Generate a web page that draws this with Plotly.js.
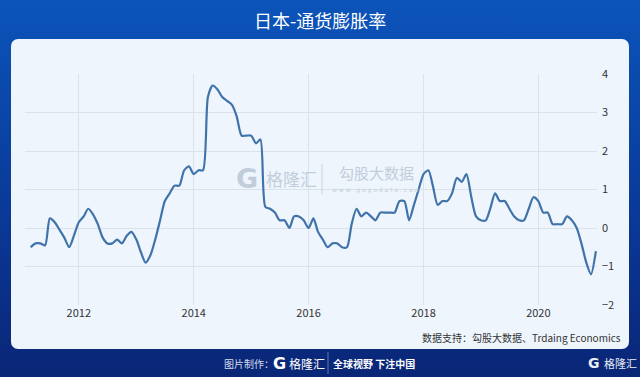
<!DOCTYPE html>
<html>
<head>
<meta charset="utf-8">
<script src="https://cdn.plot.ly/plotly-3.0.1.min.js"></script>
<style>
html,body{margin:0;padding:0;}
body{width:640px;height:377px;overflow:hidden;position:relative;
background:linear-gradient(to bottom,#0c54ba 0%,#0a46a8 30%,#0a3592 65%,#0a2676 100%);}
#panel{position:absolute;left:11px;top:39px;width:618px;height:310px;border-radius:7px;background:#eef5fd;}
#chart{position:absolute;left:0;top:0;width:640px;height:377px;}
</style>
</head>
<body>
<div id="panel"></div>
<div id="chart"></div>
<script>
// Monthly dates, Mar 2011 .. Jan 2021
const months = [
'2011-03','2011-04','2011-05','2011-06','2011-07','2011-08','2011-09','2011-10','2011-11','2011-12',
'2012-01','2012-02','2012-03','2012-04','2012-05','2012-06','2012-07','2012-08','2012-09','2012-10','2012-11','2012-12',
'2013-01','2013-02','2013-03','2013-04','2013-05','2013-06','2013-07','2013-08','2013-09','2013-10','2013-11','2013-12',
'2014-01','2014-02','2014-03','2014-04','2014-05','2014-06','2014-07','2014-08','2014-09','2014-10','2014-11','2014-12',
'2015-01','2015-02','2015-03','2015-04','2015-05','2015-06','2015-07','2015-08','2015-09','2015-10','2015-11','2015-12',
'2016-01','2016-02','2016-03','2016-04','2016-05','2016-06','2016-07','2016-08','2016-09','2016-10','2016-11','2016-12',
'2017-01','2017-02','2017-03','2017-04','2017-05','2017-06','2017-07','2017-08','2017-09','2017-10','2017-11','2017-12',
'2018-01','2018-02','2018-03','2018-04','2018-05','2018-06','2018-07','2018-08','2018-09','2018-10','2018-11','2018-12',
'2019-01','2019-02','2019-03','2019-04','2019-05','2019-06','2019-07','2019-08','2019-09','2019-10','2019-11','2019-12',
'2020-01','2020-02','2020-03','2020-04','2020-05','2020-06','2020-07','2020-08','2020-09','2020-10','2020-11','2020-12',
'2021-01'];
// Inflation rate (%)
const inflation = [
-0.5,-0.4,-0.4,-0.45,0.25,0.15,-0.05,-0.25,-0.5,-0.2,
0.15,0.3,0.5,0.35,0.1,-0.25,-0.4,-0.4,-0.3,-0.4,-0.2,-0.1,
-0.3,-0.65,-0.9,-0.7,-0.3,0.2,0.7,0.9,1.1,1.1,1.5,1.6,
1.4,1.5,1.5,3.4,3.7,3.6,3.4,3.3,3.2,2.9,2.4,2.4,
2.4,2.2,2.3,0.55,0.5,0.4,0.2,0.2,0.0,0.3,0.3,0.2,
0.0,0.25,-0.1,-0.3,-0.5,-0.4,-0.4,-0.5,-0.5,0.1,0.5,0.3,
0.4,0.3,0.2,0.4,0.4,0.4,0.4,0.7,0.7,0.2,0.6,1.0,
1.4,1.5,1.1,0.6,0.7,0.7,0.9,1.3,1.2,1.4,0.8,0.3,
0.2,0.2,0.5,0.9,0.7,0.7,0.5,0.3,0.2,0.2,0.5,0.8,
0.7,0.4,0.4,0.1,0.1,0.1,0.3,0.2,0.0,-0.4,-0.9,-1.2,
-0.6];
const yTicks = [-2,-1,0,1,2,3,4];
const xTickVals = ['2012-01-01','2014-01-01','2016-01-01','2018-01-01','2020-01-01'];
const xTickText = ['2012','2014','2016','2018','2020'];
const titleText = '日本-通货膨胀率';
const sourceText = '数据支持：勾股大数据、Trdaing Economics';

const W=640,H=377,L=25,R=43,T=74,B=72;
const pw=W-L-R, ph=H-T-B;
const px = x => (x-L)/pw;
const py = y => (H-B-y)/ph;
const CJK = '"Noto Sans CJK SC", "Noto Sans", sans-serif';

const trace = {
  x: months, y: inflation, type:'scatter', mode:'lines',
  line:{color:'#4073aa', width:2.2, shape:'spline', smoothing:0.7},
  hoverinfo:'skip'
};

const ann = [];
function A(text,x,y,opts){ann.push(Object.assign({text:text,x:px(x),y:py(y),xref:'paper',yref:'paper',showarrow:false,xanchor:'center',yanchor:'middle',borderpad:0},opts||{}));}
A(titleText,320,20,{font:{family:CJK,size:18,color:'#ffffff'}});
A(sourceText,622,337,{xanchor:'right',font:{family:CJK,size:10,color:'#333333'}});
// watermark
A('<b>G</b>',247,178,{font:{family:'DejaVu Sans',size:27,color:'#c2cddb'}});
A('格隆汇',291,178,{font:{family:CJK,size:17,color:'#c2cddb'}});
A('勾股大数据',376,172,{font:{family:CJK,size:15,color:'#c2cddb'}});
A('w w w . g o g o d a t a . c o m',376,190,{font:{family:'DejaVu Sans',size:6,color:'#c2cddb'}});
// footer
A('图片制作：',249,363,{font:{family:CJK,size:10,color:'#d5ddee'}});
A('<b>G</b>',279,363,{font:{family:'DejaVu Sans',size:16,color:'#ffffff'}});
A('格隆汇',307,363,{font:{family:CJK,size:12,color:'#ffffff'}});
A('<b>全球视野 下注中国</b>',374,363,{font:{family:CJK,size:10,color:'#ffffff'}});
A('<b>G</b>',594,363,{font:{family:'DejaVu Sans',size:14,color:'#e8edf7'}});
A('格隆汇',620,363,{font:{family:CJK,size:11,color:'#e8edf7'}});

const shapes = [
  {type:'line',xref:'paper',yref:'paper',x0:px(322),x1:px(322),y0:py(164),y1:py(194),line:{color:'#c9d3e0',width:1}},
  {type:'line',xref:'paper',yref:'paper',x0:px(328),x1:px(328),y0:py(352),y1:py(374),line:{color:'#5a78b8',width:1}}
];

const layout = {
  width:W,height:H,
  margin:{l:L,r:R,t:T,b:B,pad:0},
  paper_bgcolor:'rgba(0,0,0,0)',
  plot_bgcolor:'rgba(0,0,0,0)',
  showlegend:false,
  xaxis:{type:'date',range:['2011-01-24','2021-01-08'],tickvals:xTickVals,ticktext:xTickText,
    showgrid:true,gridcolor:'#dbe2ea',gridwidth:1,zeroline:false,showline:false,ticks:'',
    tickfont:{family:CJK,size:11,color:'#333333'}},
  yaxis:{range:[-2,4],tickvals:yTicks,side:'right',showgrid:true,gridcolor:'#dbe2ea',gridwidth:1,
    zeroline:false,showline:false,ticks:'',ticklabelstandoff:4,
    tickfont:{family:CJK,size:11,color:'#333333'}},
  annotations:ann,
  shapes:shapes
};
Plotly.newPlot('chart',[trace],layout,{staticPlot:true,displayModeBar:false});
</script>
</body>
</html>
